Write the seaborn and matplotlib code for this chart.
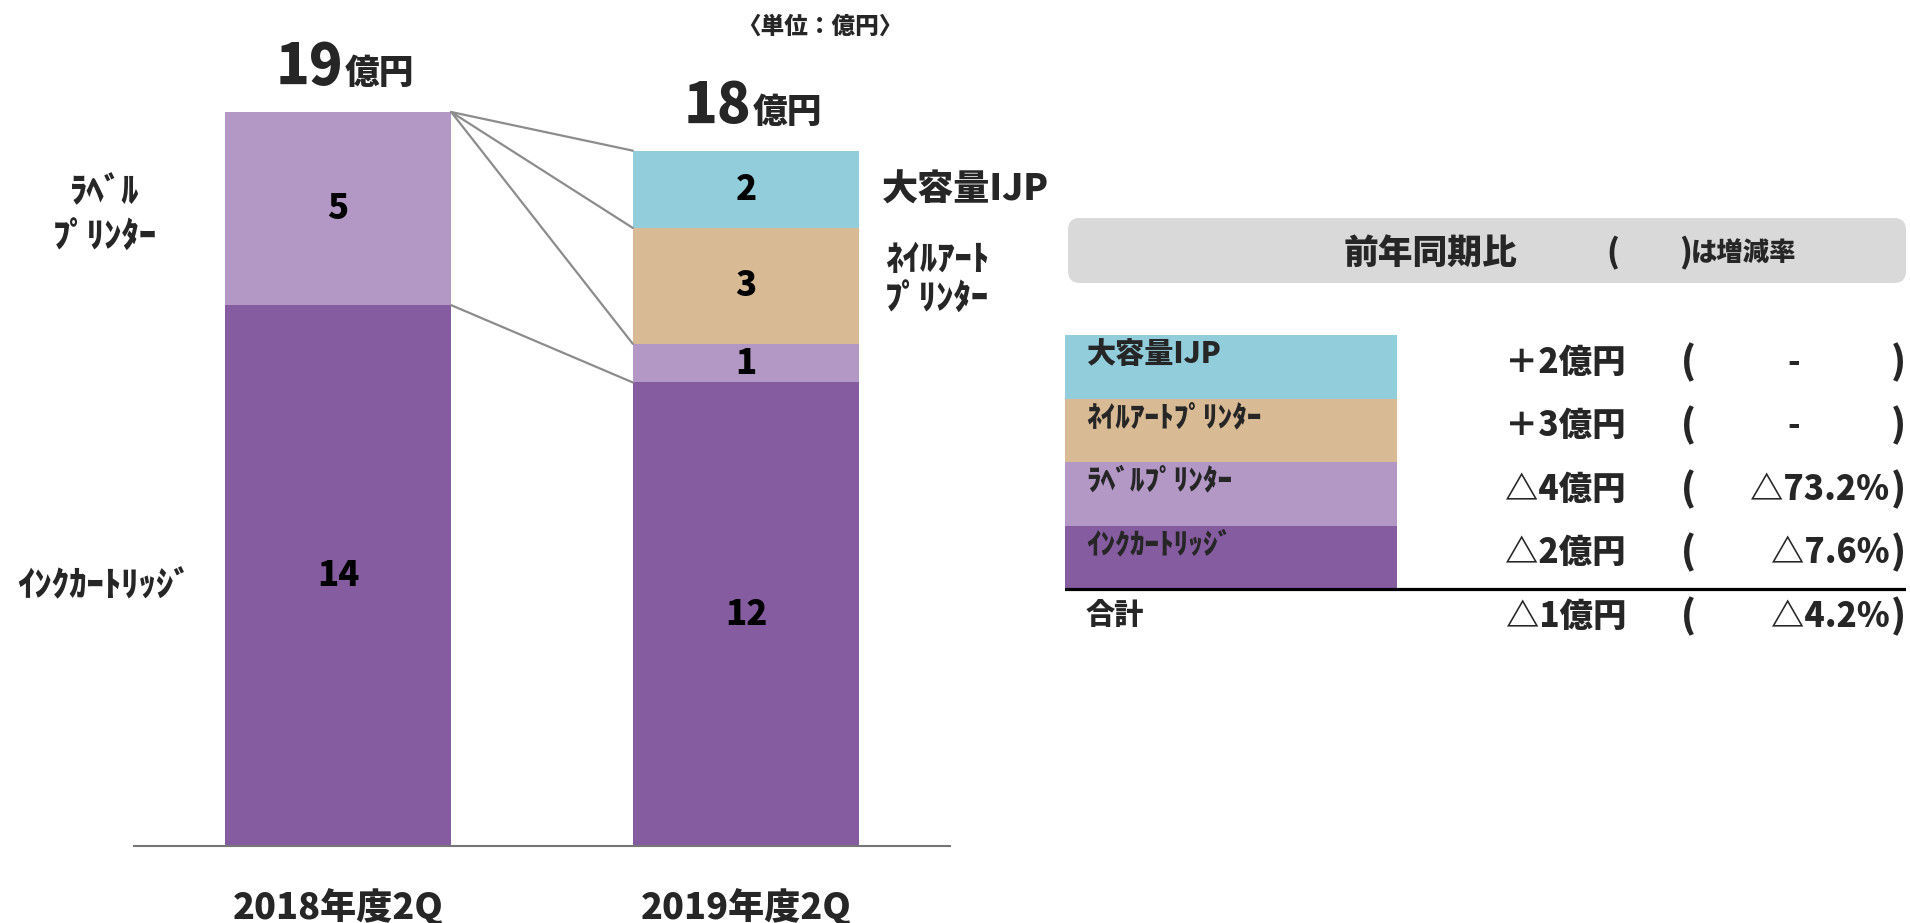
import matplotlib
matplotlib.use("Agg")
import matplotlib.pyplot as plt
import numpy as np
import pandas as pd
import seaborn as sns
from matplotlib.patches import FancyBboxPatch

# --- data ---
periods = ["2018年度2Q", "2019年度2Q"]
segments = ["ｲﾝｸｶｰﾄﾘｯｼﾞ", "ﾗﾍﾞﾙﾌﾟﾘﾝﾀｰ", "ﾈｲﾙｱｰﾄﾌﾟﾘﾝﾀｰ", "大容量IJP"]  # bottom -> top
ink_cartridge = [14, 12]
label_printer = [5, 1]
nail_printer = [0, 3]
large_ijp = [0, 2]
totals = [19, 18]
seg_colors = ["#865CA0", "#B398C6", "#D8BA94", "#92CDDC"]

table_rows = ["大容量IJP", "ﾈｲﾙｱｰﾄﾌﾟﾘﾝﾀｰ", "ﾗﾍﾞﾙﾌﾟﾘﾝﾀｰ", "ｲﾝｸｶｰﾄﾘｯｼﾞ", "合計"]
diff_oku = [2, 3, -4, -2, -1]
diff_rate = [None, None, -73.2, -7.6, -4.2]

W, H = 1910, 923
FONT = ["Noto Sans CJK JP", "DejaVu Sans"]
WT = "heavy"

sns.set_theme(style="white")
plt.rcParams["font.family"] = FONT
plt.rcParams["font.weight"] = WT

df = pd.DataFrame({
    "period": periods * 4,
    "segment": np.repeat(segments, 2),
    "value": ink_cartridge + label_printer + nail_printer + large_ijp,
})

fig = plt.figure(figsize=(W / 100, H / 100), dpi=100)

# --- stacked bars ---
BASE, UNIT = 846, 38.63   # baseline pixel row, pixels per 億円
ax = fig.add_axes([134 / W, 1 - BASE / H, 816 / W, (BASE - 20) / H])
BAR_W = 0.555
bottom = np.zeros(len(periods))
cum = {}
for seg, col in zip(segments, seg_colors):
    sub = df[df["segment"] == seg]
    vals = sub.set_index("period").loc[periods, "value"].to_numpy()
    sns.barplot(data=sub, x="period", y="value", order=periods, bottom=bottom,
                color=col, saturation=1, width=BAR_W, errorbar=None, ax=ax, linewidth=0)
    ax.bar_label(ax.containers[-1], labels=[str(v) if v else "" for v in vals],
                 label_type="center", fontsize=25, fontweight=WT, color="black")
    bottom = bottom + vals
    cum[seg] = bottom.copy()

ax.set_xlim(-0.5, 1.5)
ax.set_ylim(0, (BASE - 20) / UNIT)
for s in ["top", "left", "right"]:
    ax.spines[s].set_visible(False)
ax.spines["bottom"].set_color("#767676")
ax.spines["bottom"].set_linewidth(1.5)
ax.set_yticks([])
ax.set_xticks([])
ax.set_xlabel("")
ax.set_ylabel("")

# connector lines between the two bars
for seg in segments:
    ax.plot([0 + BAR_W / 2, 1 - BAR_W / 2], [cum[seg][0], cum[seg][1]],
            color="#8C8C8C", lw=1.6, zorder=1)

# category labels
for i, p in enumerate(periods):
    ax.text(i, (BASE - 907) / (BASE - 20), p, transform=ax.get_xaxis_transform(),
            ha="center", va="center", fontsize=26, fontweight=WT)

# totals
for i, t in enumerate(totals):
    ax.annotate(str(t), xy=(i, t), xytext=(4, 20), textcoords="offset points",
                ha="right", va="baseline", fontsize=40, fontweight=WT)
    ax.annotate("億円", xy=(i, t), xytext=(5, 20), textcoords="offset points",
                ha="left", va="baseline", fontsize=25, fontweight=WT)


def ftext(px, py, s, **kw):
    fig.text(px / W, 1 - py / H, s, fontweight=WT, **kw)


ftext(820, 26, "〈単位：億円〉", fontsize=17, ha="center", va="center")

# side labels
ftext(105, 192, "ﾗﾍﾞﾙ", fontsize=25, ha="center", va="center")
ftext(105, 237, "ﾌﾟﾘﾝﾀｰ", fontsize=25, ha="center", va="center")
ftext(104, 586, "ｲﾝｸｶｰﾄﾘｯｼﾞ", fontsize=25, ha="center", va="center")
ftext(882, 190, "大容量IJP", fontsize=26, ha="left", va="center")
ftext(885, 259, "ﾈｲﾙｱｰﾄ", fontsize=25, ha="left", va="center")
ftext(885, 299, "ﾌﾟﾘﾝﾀｰ", fontsize=25, ha="left", va="center")

# --- comparison table ---
T_LEFT, T_RIGHT, T_TOP, ROW = 1065, 1906, 335, 63.5
Y_MIN = -1.9
ax2 = fig.add_axes([T_LEFT / W, 1 - (T_TOP + 5 * ROW) / H,
                    (T_RIGHT - T_LEFT) / W, (5 - Y_MIN) * ROW / H])
ax2.set_xlim(0, 1)
ax2.set_ylim(5, Y_MIN)
ax2.axis("off")

CELL_W = (1397 - T_LEFT) / (T_RIGHT - T_LEFT)
row_colors = seg_colors[::-1]
ax2.barh(np.arange(4), CELL_W, height=1, left=0, align="edge", color=row_colors, linewidth=0)
ax2.axhline(4, color="black", lw=2.3)

px_x = 1 / (T_RIGHT - T_LEFT)
px_y = 1 / ROW
hdr = FancyBboxPatch((3 * px_x, (218 - T_TOP) * px_y), 1 - 3 * px_x, 65 * px_y,
                     boxstyle="round,pad=0,rounding_size=%f" % (12 * px_x),
                     mutation_aspect=px_y / px_x, facecolor="#D9D9D9",
                     edgecolor="none", clip_on=False)
ax2.add_patch(hdr)
hy = (253 - T_TOP) * px_y
ax2.text(0.435, hy, "前年同期比", ha="center", va="center", fontsize=25, fontweight=WT)
ax2.text(0.644, hy, "(", ha="left", va="center", fontsize=23, fontweight=WT)
ax2.text(0.730, hy, ")", ha="left", va="center", fontsize=23, fontweight=WT)
ax2.text(0.7445, hy, "は増減率", ha="left", va="center", fontsize=19, fontweight=WT)

for i, (name, d, r) in enumerate(zip(table_rows, diff_oku, diff_rate)):
    ly = i + (0.41 if i == 4 else 0.3)
    vy = i + 0.43
    ax2.text(0.025, ly, name, ha="left", va="center", fontsize=21, fontweight=WT)
    dtxt = ("＋%d億円" % d) if d > 0 else ("△%d億円" % abs(d))
    ax2.text(0.667, vy, dtxt, ha="right", va="center", fontsize=24, fontweight=WT)
    ax2.text(0.733, vy, "(", ha="left", va="center", fontsize=27, fontweight=WT)
    ax2.text(1.0, vy, ")", ha="right", va="center", fontsize=27, fontweight=WT)
    if r is None:
        ax2.text(0.867, vy, "-", ha="center", va="center", fontsize=24, fontweight=WT)
    else:
        ax2.text(0.98, vy, "△%.1f%%" % abs(r), ha="right", va="center",
                 fontsize=24, fontweight=WT)

fig.savefig("out.png", dpi=100)
